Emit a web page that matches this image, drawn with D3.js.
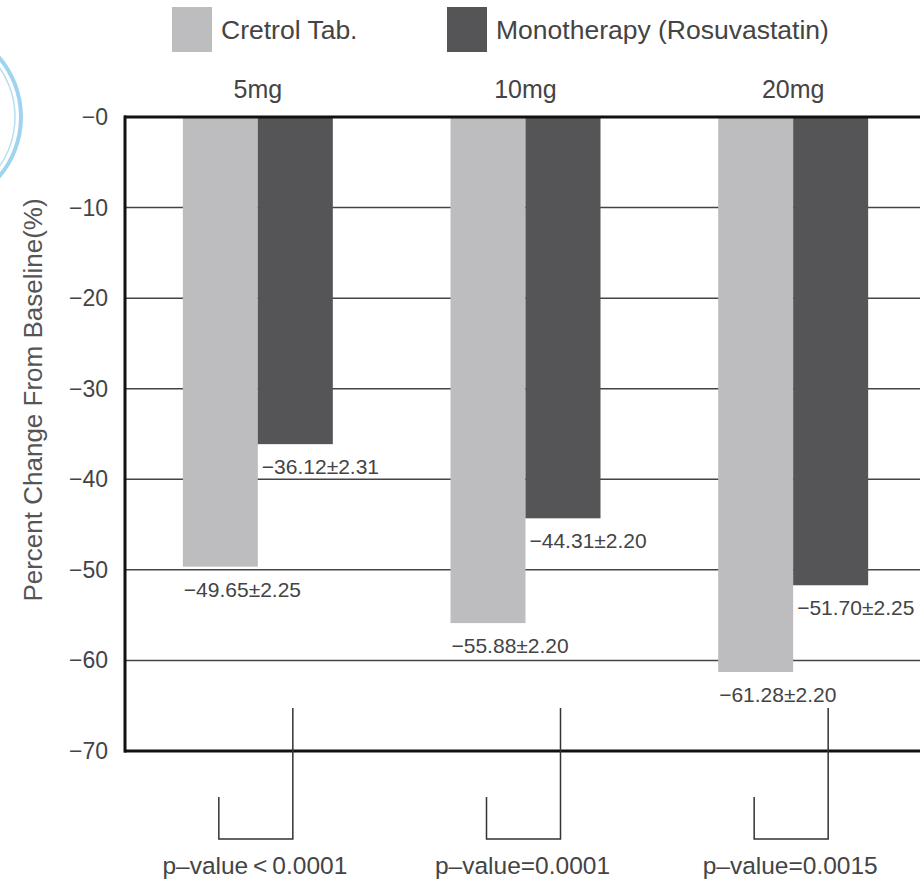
<!DOCTYPE html>
<html>
<head>
<meta charset="utf-8">
<style>
  body { margin: 0; background: #fff; }
  svg text { font-family: 'Liberation Sans', Arial, sans-serif; fill: #444; }
</style>
</head>
<body>
<svg width="920" height="881"></svg>
<script src="https://d3js.org/d3.v7.min.js"></script>
<script>
  // data
  let doses = ["5mg", "10mg", "20mg"]
  let series = ["Cretrol Tab.", "Monotherapy (Rosuvastatin)"]
  let cretrol = [-49.65, -55.88, -61.28]
  let cretrolSd = [2.25, 2.20, 2.20]
  let mono = [-36.12, -44.31, -51.70]
  let monoSd = [2.31, 2.20, 2.25]
  let pValues = ["p\u2013value\u2009<\u20090.0001", "p\u2013value=0.0001", "p\u2013value=0.0015"]
  let yTicks = [0, -10, -20, -30, -40, -50, -60, -70]

  let colors = ["#bdbdbf", "#555557"]

  let svg = d3.select("svg")

  // the blue stamp bits peeking in at top-left
  svg.append("circle").attr("cx", -71).attr("cy", 117).attr("r", 92)
    .style("fill", "none").style("stroke", "#9fd3ee").style("stroke-width", 4)
  svg.append("circle").attr("cx", -71).attr("cy", 117).attr("r", 86)
    .style("fill", "none").style("stroke", "#b8def2").style("stroke-width", 1.5)

  let x = d3.scaleBand().domain(doses).range([124, 927]).padding(0)
  let xIn = d3.scaleBand().domain(series).range([-75, 75]).padding(0)
  let y = d3.scaleLinear().domain([-70, 0]).range([751, 117])

  let cx = d => x(d) + x.bandwidth() / 2

  // gridlines
  svg.selectAll(".grid")
    .data(yTicks.filter(t => t != 0 && t != -70))
    .join("line")
    .attr("x1", 124).attr("x2", 920)
    .attr("y1", d => y(d)).attr("y2", d => y(d))
    .style("stroke", "#444").style("stroke-width", 1.5)

  // tick labels
  svg.selectAll(".ytick")
    .data(yTicks)
    .join("text")
    .attr("x", 108).attr("y", d => y(d))
    .attr("dy", "0.35em")
    .attr("text-anchor", "end")
    .style("font-size", "23px")
    .text(d => "\u2212" + Math.abs(d))

  // bars
  let rows = []
  doses.forEach((d, i) => {
    rows.push({ dose: d, s: series[0], v: cretrol[i], sd: cretrolSd[i], c: colors[0] })
    rows.push({ dose: d, s: series[1], v: mono[i], sd: monoSd[i], c: colors[1] })
  })

  svg.selectAll(".bar")
    .data(rows)
    .join("rect")
    .attr("x", d => cx(d.dose) + xIn(d.s))
    .attr("width", xIn.bandwidth())
    .attr("y", y(0))
    .attr("height", d => y(d.v) - y(0))
    .style("fill", d => d.c)

  svg.selectAll(".val")
    .data(rows)
    .join("text")
    .attr("x", d => cx(d.dose) + xIn(d.s) + (d.s == series[0] ? 1 : 4))
    .attr("y", d => y(d.v) + 30)
    .style("font-size", "21px")
    .text(d => "\u2212" + Math.abs(d.v).toFixed(2) + "\u00b1" + d.sd.toFixed(2))

  // frame
  svg.append("line").attr("x1", 124).attr("x2", 920).attr("y1", y(0)).attr("y2", y(0))
    .style("stroke", "#111").style("stroke-width", 3)
  svg.append("line").attr("x1", 124).attr("x2", 920).attr("y1", y(-70)).attr("y2", y(-70))
    .style("stroke", "#111").style("stroke-width", 3)
  svg.append("line").attr("x1", 125).attr("x2", 125).attr("y1", y(0) - 1.5).attr("y2", y(-70) + 1.5)
    .style("stroke", "#111").style("stroke-width", 3)

  // dose labels
  svg.selectAll(".dose")
    .data(doses)
    .join("text")
    .attr("x", d => cx(d))
    .attr("y", 98)
    .attr("text-anchor", "middle")
    .style("font-size", "25px")
    .text(d => d)

  // p-value brackets
  svg.selectAll(".br")
    .data(doses)
    .join("path")
    .attr("d", d => {
      let c = cx(d)
      return "M" + (c + 35) + ",708 V839 H" + (c - 39) + " V797"
    })
    .style("fill", "none").style("stroke", "#333").style("stroke-width", 1.5)

  svg.selectAll(".pv")
    .data(doses)
    .join("text")
    .attr("x", d => cx(d) - 3)
    .attr("y", 874)
    .attr("text-anchor", "middle")
    .style("font-size", "24.5px")
    .text((d, i) => pValues[i])

  // legend
  let legX = [172, 447]
  series.forEach((s, i) => {
    svg.append("rect").attr("x", legX[i]).attr("y", 7).attr("width", 40).attr("height", 45)
      .style("fill", colors[i])
    svg.append("text").attr("x", legX[i] + 49).attr("y", 39)
      .style("font-size", "26.5px")
      .text(s)
  })

  // y title
  svg.append("text")
    .attr("transform", "translate(42,400) rotate(-90)")
    .attr("text-anchor", "middle")
    .style("font-size", "26px")
    .style("fill", "#555")
    .text("Percent Change From Baseline(%)")
</script>
</body>
</html>
